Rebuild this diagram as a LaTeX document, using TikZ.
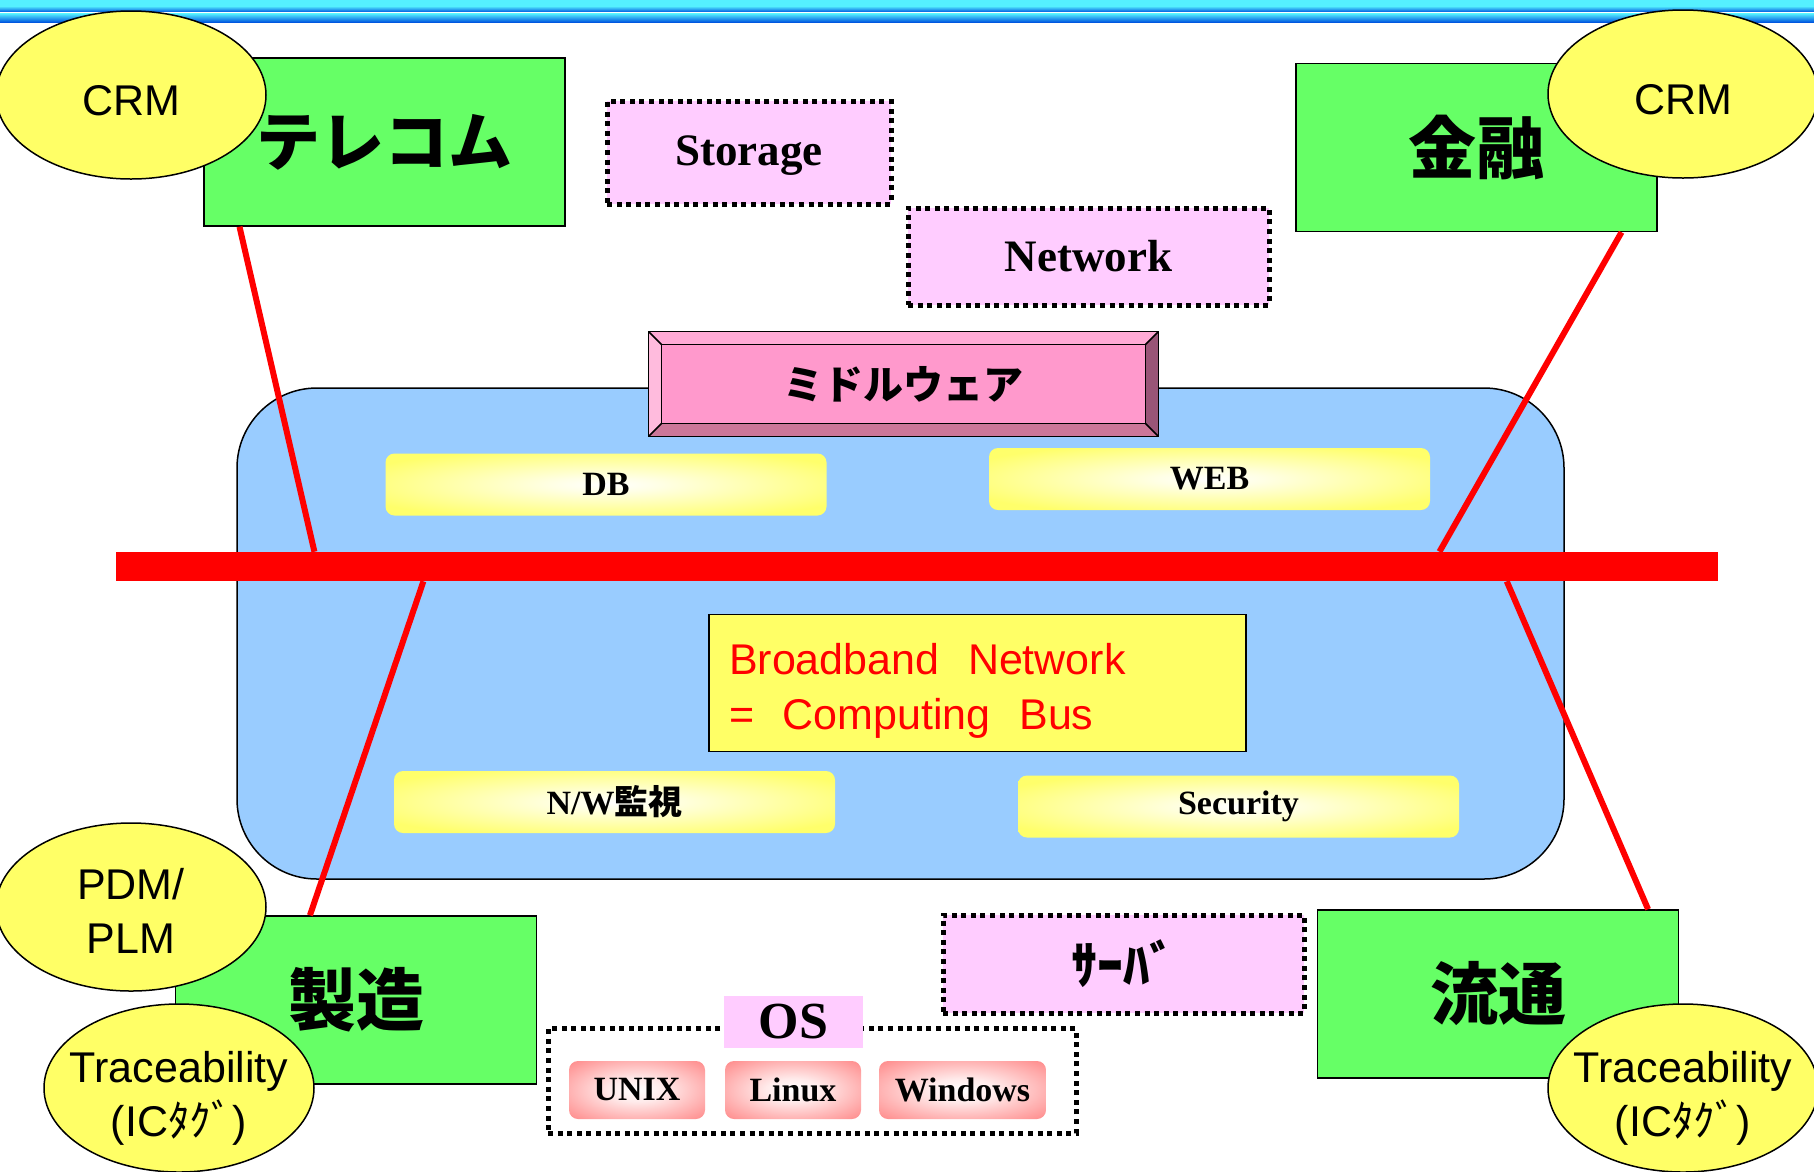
\documentclass[tikz,border=0pt]{standalone}
\usepackage{fontspec}
\setmainfont{Liberation Serif}
\setsansfont{Liberation Sans}
\newfontfamily\jpfont{Noto Sans CJK JP}
\usetikzlibrary{shapes.geometric,calc}

\definecolor{stripecyan}{HTML}{55F0FF}
\definecolor{stripeblue}{HTML}{0058E0}
\definecolor{leafgreen}{HTML}{66FF66}
\definecolor{lemon}{HTML}{FFFF66}
\definecolor{lilac}{HTML}{FFCCFF}
\definecolor{sky}{HTML}{99CCFF}
\definecolor{mwface}{HTML}{FF99CC}
\definecolor{mwtop}{HTML}{FFAAD5}
\definecolor{mwleft}{HTML}{FFBBDD}
\definecolor{mwright}{HTML}{995577}
\definecolor{mwbottom}{HTML}{CC7799}

\pgfdeclareradialshading{yglow}{\pgfpoint{0bp}{0bp}}{rgb(0bp)=(1,1,1); rgb(6bp)=(1,1,0.9); rgb(30bp)=(1,1,0.42); rgb(50bp)=(1,1,0.4)}
\pgfdeclareradialshading{rglow}{\pgfpoint{0bp}{0bp}}{rgb(0bp)=(1,1,1); rgb(10bp)=(1,0.92,0.92); rgb(38bp)=(1,0.5,0.5); rgb(50bp)=(1,0.5,0.5)}

\newcommand{\bubbleline}[1]{\makebox[0pt]{#1}}
\newcommand{\bubbletop}[2]{\makebox[0pt]{\rule{0pt}{#1}#2}}

\begin{document}
\begin{tikzpicture}[x=1pt, y=-1pt, semithick]
    \tikzstyle{industry}=[draw, line width=1.5pt, fill=leafgreen, minimum width=361, minimum height=168,
                          inner sep=0pt, font=\jpfont\bfseries\fontsize{68pt}{68pt}\selectfont]
    \tikzstyle{bubble}=[ellipse, draw, line width=1.5pt, fill=lemon, minimum width=270, minimum height=168,
                        inner sep=0pt, align=center, font=\sffamily\fontsize{43pt}{54pt}\selectfont]
    \tikzstyle{sidebox}=[draw, line width=5pt, dash pattern=on 5pt off 4.6pt, fill=lilac, inner sep=0pt,
                         font=\bfseries\fontsize{45pt}{45pt}\selectfont]
    \tikzstyle{module}=[rounded corners=9pt, shading=yglow, inner sep=0pt, minimum width=441, minimum height=62,
                        font=\bfseries\fontsize{34pt}{34pt}\selectfont]
    \tikzstyle{osbox}=[rounded corners=9pt, shading=rglow, inner sep=0pt, minimum height=58,
                       font=\bfseries\fontsize{34pt}{34pt}\selectfont]
    \tikzstyle{busline}=[red, line width=6pt]

    \useasboundingbox (0,0) rectangle (1814,1171);
    \fill[white] (0,0) rectangle (1814,1171);

    \fill[stripecyan] (0,0) rectangle (1814,6);
    \shade[top color=stripecyan, bottom color=stripeblue] (0,6) rectangle (1814,12);
    \fill[white] (0,12) rectangle (1814,13.5);
    \shade[top color=stripecyan, bottom color=stripeblue] (0,13.5) rectangle (1814,22);

    \node[draw, line width=1.5pt, fill=sky, rounded corners=80pt, minimum width=1327,
          minimum height=491] (platform) at (900.5,633.5) {};

    \node[inner sep=0pt, minimum width=509, minimum height=104] (middleware) at (903.5,384) {};
    \fill[mwtop] (middleware.north west) -- (middleware.north east) -- ++(-13,13)
        -- ($(middleware.north west)+(13,13)$) -- cycle;
    \fill[mwbottom] (middleware.south west) -- (middleware.south east) -- ++(-13,-13)
        -- ($(middleware.south west)+(13,-13)$) -- cycle;
    \fill[mwleft] (middleware.north west) -- ++(13,13) -- ($(middleware.south west)+(13,-13)$)
        -- (middleware.south west) -- cycle;
    \fill[mwright] (middleware.north east) -- ++(-13,13) -- ($(middleware.south east)+(-13,-13)$)
        -- (middleware.south east) -- cycle;
    \draw[line width=1.5pt, fill=mwface] ($(middleware.north west)+(13,13)$)
        rectangle ($(middleware.south east)+(-13,-13)$);
    \draw[line width=1.5pt] (middleware.north west) rectangle (middleware.south east);
    \draw[line width=1.5pt] (middleware.north west) -- ++(13,13)
                            (middleware.north east) -- ++(-13,13)
                            (middleware.south west) -- ++(13,-13)
                            (middleware.south east) -- ++(-13,-13);
    \node[font=\jpfont\bfseries\fontsize{40pt}{40pt}\selectfont] (mwlabel) at (middleware) {ミドルウェア};

    \node[module]                     (db)       at (606,484.5)  {DB};
    \node[module]                     (web)      at (1209.5,479) {WEB};
    \node[module]                     (nwmon)    at (614.5,802)  {N/W{\jpfont 監視}};
    \node[module]                     (security) at (1238.5,806.5) {Security};

    \node[draw, line width=1.5pt, fill=lemon, minimum width=537, minimum height=137, text width=497,
          align=left, text=red, font=\sffamily\fontsize{43pt}{55pt}\selectfont]
          (broadband) at (977.5,683) {\rule{0pt}{47pt}Broadband~~Network\\=~~Computing~~Bus};

    \node[fill=red, inner sep=0pt, minimum width=1602, minimum height=29] (bus) at (917,566.5) {};

    \node[sidebox, minimum width=284, minimum height=103, text depth=4pt] (storage) at (749,152.5)  {Storage};
    \node[sidebox, minimum width=361, minimum height=97]  (network) at (1088.5,256.5) {Network};
    \node[sidebox, minimum width=361, minimum height=98,
          font=\jpfont\bfseries\fontsize{52pt}{52pt}\selectfont] (server) at (1123.5,964) {ｻｰﾊﾞ};

    \node[industry, font=\jpfont\bfseries\fontsize{64pt}{64pt}\selectfont] (telecom) at (384.5,142) {テレコム};
    \node[industry]                   (finance)  at (1476.5,147.5) {金融};
    \node[industry]                   (maker)    at (356,1000)   {製造};
    \node[industry]                   (retail)   at (1498,994)   {流通};

    \draw[busline] ($(telecom.south west)!0.10!(telecom.south east)$) -- ($(bus.north west)!0.124!(bus.north east)$);
    \draw[busline] ($(finance.south west)!0.90!(finance.south east)$) -- ($(bus.north west)!0.826!(bus.north east)$);
    \draw[busline] ($(bus.south west)!0.192!(bus.south east)$) -- ($(maker.north west)!0.373!(maker.north east)$);
    \draw[busline] ($(bus.south west)!0.868!(bus.south east)$) -- ($(retail.north west)!0.914!(retail.north east)$);

    \node[bubble]                     (crmA)     at (131,95)     {\bubbletop{41pt}{CRM}};
    \node[bubble]                     (crmB)     at (1683,94)    {\bubbletop{41pt}{CRM}};
    \node[bubble]                     (pdm)      at (131,907)    {\bubbletop{38pt}{PDM/}\\\bubbleline{PLM}};
    \node[bubble]                     (traceA)   at (179,1088)   {\bubbletop{51pt}{Traceability}\\\bubbleline{(IC{\jpfont ﾀｸﾞ})}};
    \node[bubble]                     (traceB)   at (1683,1088)  {\bubbletop{51pt}{Traceability}\\\bubbleline{(IC{\jpfont ﾀｸﾞ})}};

    \node[draw, line width=5pt, dash pattern=on 5pt off 4.6pt, minimum width=528,
          minimum height=105] (osframe) at (812,1081) {};
    \node[fill=lilac, inner sep=0pt, minimum width=139, minimum height=52,
          font=\bfseries\fontsize{52pt}{52pt}\selectfont] (os) at (793.5,1022) {OS};
    \node[osbox, minimum width=136]   (unix)     at (637,1090)   {UNIX};
    \node[osbox, minimum width=136]   (linux)    at (793,1090)   {Linux};
    \node[osbox, minimum width=167]   (windows)  at (962.5,1090) {Windows};
\end{tikzpicture}
\end{document}
